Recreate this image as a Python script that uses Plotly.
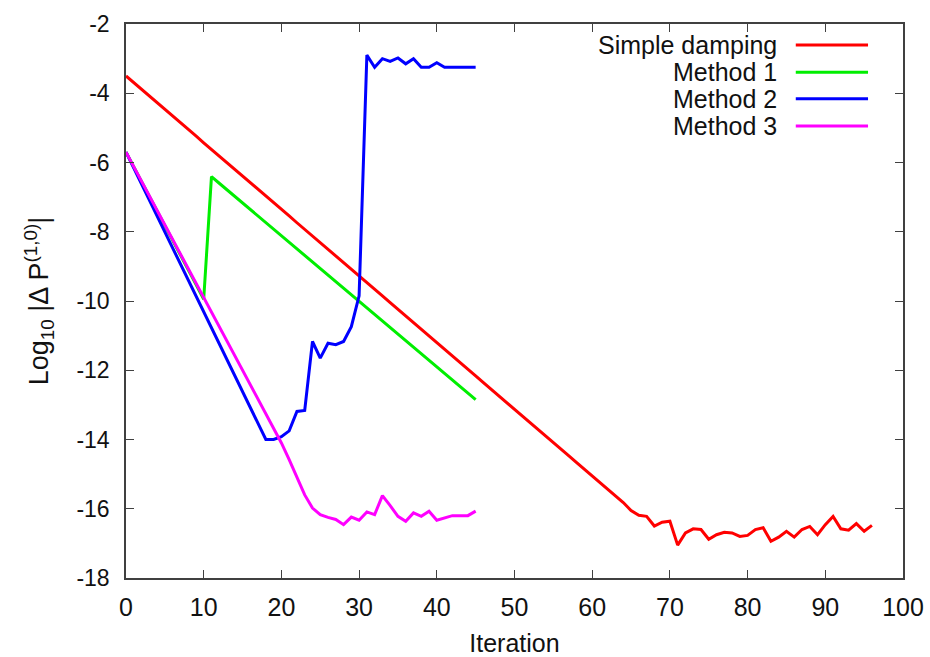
import plotly.graph_objects as go

# ---- data ----
iter_simple = list(range(0, 97))
simple_damping = [
    -3.50, -3.69, -3.89, -4.08, -4.27, -4.46, -4.66, -4.85, -5.04, -5.23,
    -5.43, -5.62, -5.81, -6.00, -6.20, -6.39, -6.58, -6.77, -6.97, -7.16,
    -7.35, -7.54, -7.74, -7.93, -8.12, -8.31, -8.51, -8.70, -8.89, -9.08,
    -9.28, -9.47, -9.66, -9.85, -10.05, -10.24, -10.43, -10.62, -10.82, -11.01,
    -11.20, -11.39, -11.59, -11.78, -11.97, -12.16, -12.36, -12.55, -12.74, -12.93,
    -13.13, -13.32, -13.51, -13.70, -13.90, -14.09, -14.28, -14.47, -14.67, -14.86,
    -15.05, -15.24, -15.44, -15.62, -15.82, -16.05, -16.19, -16.22, -16.50, -16.39,
    -16.36, -17.05, -16.70, -16.58, -16.60, -16.88, -16.75, -16.68, -16.70, -16.80,
    -16.77, -16.60, -16.55, -16.94, -16.82, -16.65, -16.82, -16.60, -16.51, -16.75,
    -16.46, -16.22, -16.58, -16.62, -16.43, -16.65, -16.48,
]

iter_methods = list(range(0, 46))
method1 = [
    -5.70, -6.12, -6.55, -6.97, -7.40, -7.82, -8.25, -8.67, -9.10, -9.52,
    -9.95, -6.41, -6.60, -6.79, -6.98, -7.17, -7.36, -7.55, -7.74, -7.93,
    -8.12, -8.31, -8.50, -8.69, -8.88, -9.07, -9.26, -9.45, -9.64, -9.83,
    -10.02, -10.21, -10.40, -10.59, -10.78, -10.97, -11.16, -11.35, -11.54, -11.73,
    -11.92, -12.11, -12.30, -12.49, -12.68, -12.85,
]
method2 = [
    -5.70, -6.16, -6.62, -7.08, -7.54, -8.01, -8.47, -8.93, -9.39, -9.85,
    -10.31, -10.77, -11.23, -11.69, -12.15, -12.62, -13.08, -13.54, -14.00, -14.00,
    -13.92, -13.75, -13.19, -13.16, -11.17, -11.65, -11.22, -11.26, -11.17, -10.74,
    -9.85, -2.90, -3.25, -3.00, -3.08, -2.98, -3.15, -3.00, -3.25, -3.25,
    -3.12, -3.25, -3.25, -3.25, -3.25, -3.25,
]
method3 = [
    -5.70, -6.12, -6.54, -6.96, -7.38, -7.80, -8.22, -8.64, -9.06, -9.48,
    -9.90, -10.32, -10.74, -11.16, -11.58, -12.00, -12.42, -12.84, -13.26, -13.68,
    -14.10, -14.58, -15.10, -15.60, -15.98, -16.17, -16.25, -16.31, -16.46, -16.24,
    -16.33, -16.09, -16.17, -15.62, -15.91, -16.22, -16.36, -16.12, -16.22, -16.07,
    -16.33, -16.27, -16.20, -16.20, -16.20, -16.07,
]

series_names = ["Simple damping", "Method 1", "Method 2", "Method 3"]
series_colors = ["#ff0000", "#00ee00", "#0000ff", "#ff00ff"]

x_ticks = [0, 10, 20, 30, 40, 50, 60, 70, 80, 90, 100]
y_ticks = [-2, -4, -6, -8, -10, -12, -14, -16, -18]

# ---- figure ----
fig = go.Figure()
xs = [iter_simple, iter_methods, iter_methods, iter_methods]
ys = [simple_damping, method1, method2, method3]
for name, color, xv, yv in zip(series_names, series_colors, xs, ys):
    fig.add_trace(go.Scatter(x=xv, y=yv, mode="lines", name=name,
                             line=dict(color=color, width=3), showlegend=False))

font_family = "Liberation Sans, Arial, sans-serif"

# gnuplot-style key: right-justified text with sample line on the right
row_y = [0.962, 0.913, 0.865, 0.816]
for name, color, ry in zip(series_names, series_colors, row_y):
    fig.add_annotation(xref="x domain", yref="y domain", x=0.839, y=ry,
                       text=name, showarrow=False, xanchor="right", yanchor="middle",
                       borderpad=0,
                       font=dict(family=font_family, size=25, color="#111111"))
    fig.add_shape(type="line", xref="x domain", yref="y domain",
                  x0=0.862, x1=0.955, y0=ry, y1=ry,
                  line=dict(color=color, width=3))

axis_common = dict(showline=True, mirror="ticks", linecolor="#404040", linewidth=1.5,
                   ticks="inside", ticklen=8, tickwidth=1.2, tickcolor="#404040",
                   showgrid=False, zeroline=False)

fig.update_xaxes(range=[0, 100], tickvals=x_ticks, ticktext=[str(v) for v in x_ticks],
                 tickfont=dict(family=font_family, size=25, color="#111111"),
                 ticklabelstandoff=6,
                 title=dict(text="Iteration", font=dict(family=font_family, size=25, color="#111111"),
                            standoff=21),
                 **axis_common)
fig.update_yaxes(range=[-18, -2], tickvals=y_ticks, ticktext=[str(v) for v in y_ticks],
                 tickfont=dict(family=font_family, size=23, color="#111111"),
                 ticklabelstandoff=10,
                 title=dict(text="Log<sub>10</sub> |Δ P<sup>(1,0)</sup>|",
                            font=dict(family=font_family, size=27, color="#111111"),
                            standoff=20),
                 **axis_common)

fig.update_layout(width=930, height=657, plot_bgcolor="white", paper_bgcolor="white",
                  margin=dict(l=126, r=27, t=24, b=79, autoexpand=False),
                  showlegend=False)

fig.write_html("out.html", config={"displayModeBar": False},
               post_script="document.body.style.margin='0';")
